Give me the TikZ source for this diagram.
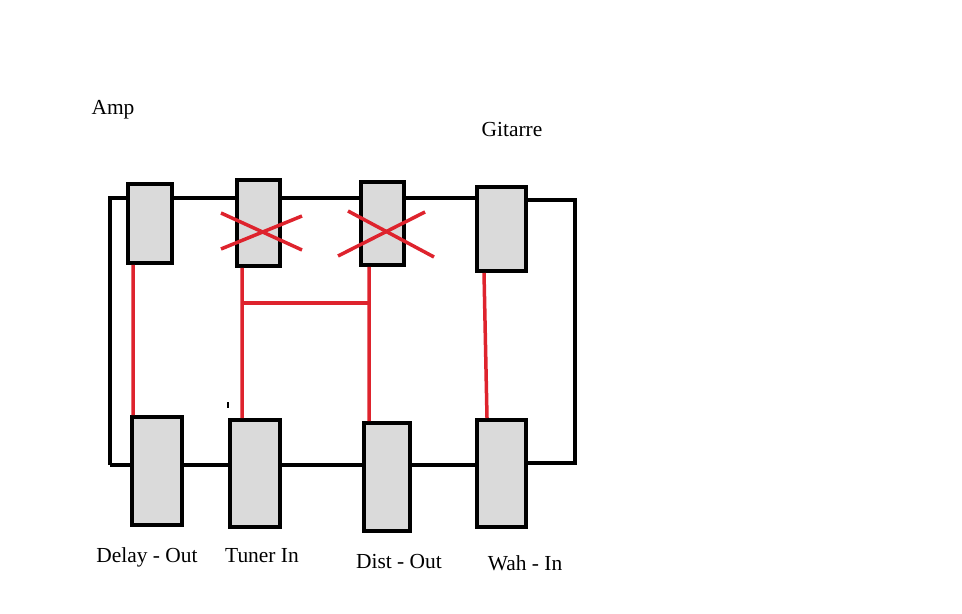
\documentclass[tikz,border=0pt]{standalone}
\usepackage{fontspec}
\setmainfont{Liberation Serif}
\usetikzlibrary{positioning,calc}
\definecolor{jackgray}{RGB}{218,218,218}
\definecolor{cablered}{RGB}{222,35,45}
\colorlet{accentcolor}{cablered}

\begin{document}
\begin{tikzpicture}[x=0.02cm,y=-0.02cm]

    \tikzstyle{jack}=[draw, rectangle, fill=jackgray, line width=0.08cm, inner sep=0pt, outer sep=0.04cm]
    \tikzstyle{wire}=[line width=0.08cm]
    \tikzstyle{rw}=[color=accentcolor, line width=0.07cm]
    \tikzstyle{lbl}=[font=\fontsize{12.2}{14}\selectfont, inner sep=0pt, anchor=base]

    \useasboundingbox (0,0) rectangle (962,614);

    % top row
    \node (topA) at (150,223.5)[jack, minimum width=0.88cm, minimum height=1.58cm]{};
    \node (topB) at (258.5,223)[jack, minimum width=0.86cm, minimum height=1.72cm]{};
    \node (topC) at (382.5,223.5)[jack, minimum width=0.86cm, minimum height=1.66cm]{};
    \node (topD) at (501.5,229)[jack, minimum width=0.98cm, minimum height=1.68cm]{};

    % bottom row
    \node (delayOut) at (157,471)[jack, minimum width=1.0cm, minimum height=2.16cm]{};
    \node (tunerIn) at (255,473.5)[jack, minimum width=1.0cm, minimum height=2.14cm]{};
    \node (distOut) at (387,477)[jack, minimum width=0.92cm, minimum height=2.16cm]{};
    \node (wahIn) at (501.5,473.5)[jack, minimum width=0.98cm, minimum height=2.14cm]{};

    \node (amp) at (113,115)[lbl]{Amp};
    \node (gitarre) at (512,137)[lbl]{Gitarre};
    \node (lDelay) at (147,562)[lbl]{Delay - Out};
    \node (lTuner) at (262,562)[lbl]{Tuner In};
    \node (lDist) at (399,568)[lbl]{Dist - Out};
    \node (lWah) at (525,570)[lbl]{Wah - In};

    \coordinate (tl) at (110,198);
    \coordinate (tr) at (575,200);
    \coordinate (bl) at (110,465);
    \coordinate (br) at (575,463);

    % black loop
    \draw[wire] (bl) -- (tl) -- (tl -| topA.west);
    \draw[wire] (tl -| topA.east) -- (tl -| topB.west);
    \draw[wire] (tl -| topB.east) -- (tl -| topC.west);
    \draw[wire] (tl -| topC.east) -- (tl -| topD.west);
    \draw[wire] (tr -| topD.east) -- (tr) -- (br) -- (br -| wahIn.east);
    \draw[wire] (bl) -- (bl -| delayOut.west);
    \draw[wire] (bl -| delayOut.east) -- (bl -| tunerIn.west);
    \draw[wire] (bl -| tunerIn.east) -- (bl -| distOut.west);
    \draw[wire] (bl -| distOut.east) -- (bl -| wahIn.west);

    % red cables
    \draw[rw] ([xshift=0.14cm]topA.south west) -- ([xshift=0.06cm]delayOut.north west);
    \draw[rw] ([xshift=0.14cm]topB.south west) -- ([xshift=0.28cm]tunerIn.north west);
    \draw[rw] ([xshift=0.2cm]topC.south west) -- ([xshift=0.14cm]distOut.north west);
    \draw[rw] ([xshift=0.18cm]topD.south west) -- ([xshift=0.24cm]wahIn.north west);
    \coordinate (jB) at (242,303);
    \coordinate (jC) at (369,303);
    \draw[rw] (jB) -- (jC);

    % crosses
    \draw[rw] (221,213) -- (302,250);
    \draw[rw] (221,249) -- (302,216);
    \draw[rw] (348,211) -- (434,257);
    \draw[rw] (338,256) -- (425,212);

    \draw[line width=0.04cm] (228,402) -- (228,408);

\end{tikzpicture}
\end{document}
